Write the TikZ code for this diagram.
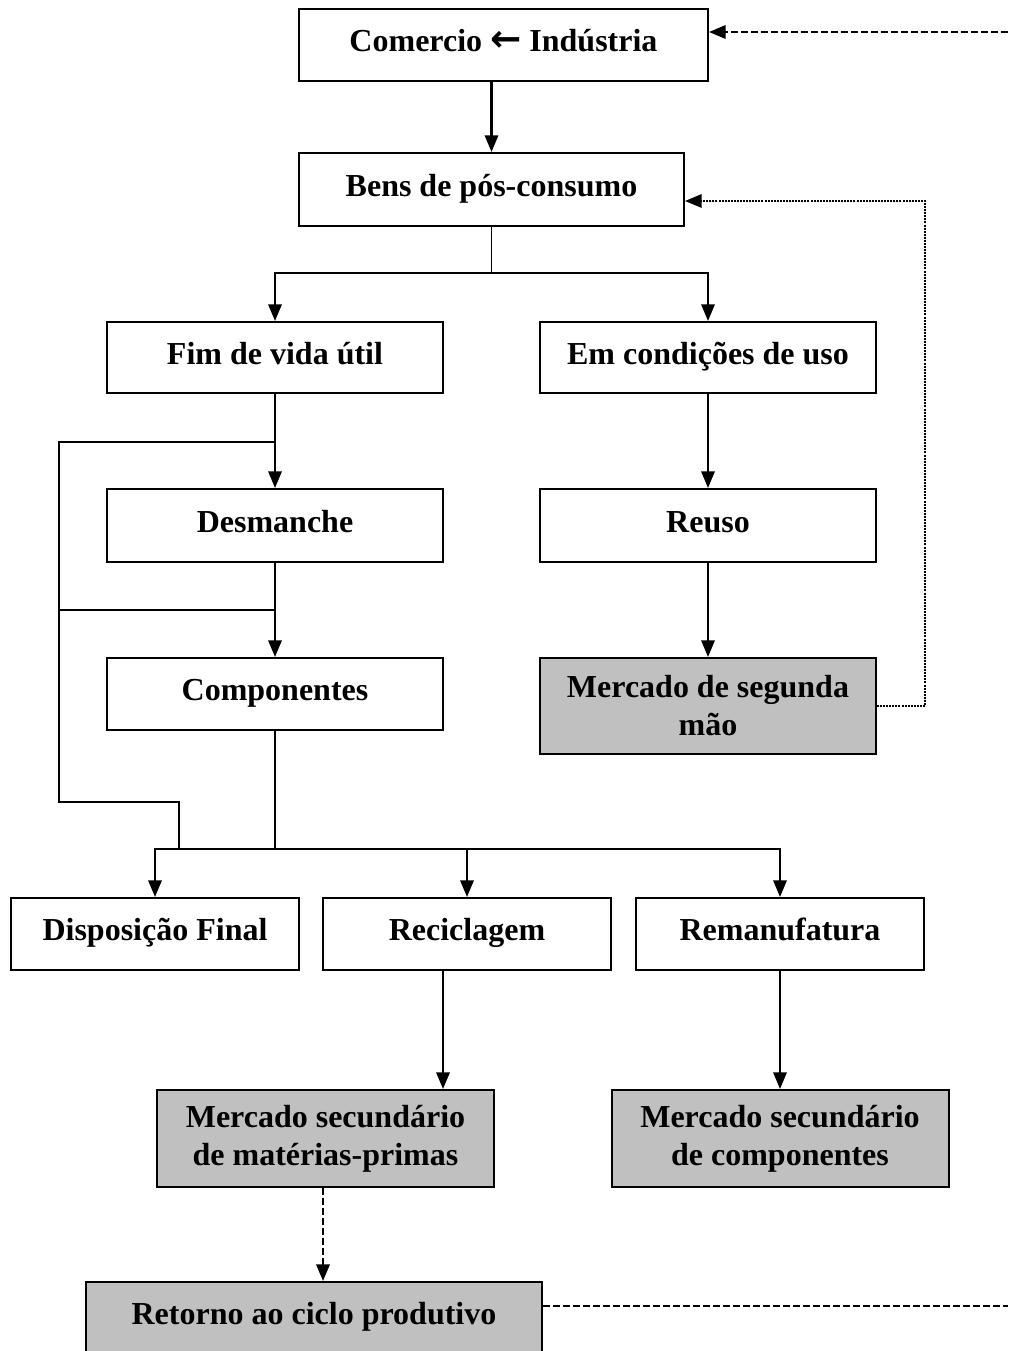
\documentclass[tikz,border=0pt]{standalone}
\usepackage{fontspec}
\setmainfont{Liberation Serif}
\newfontfamily\arrowfont{DejaVu Sans}
\usetikzlibrary{arrows.meta}
\definecolor{boxgray}{RGB}{192,192,192}
\begin{document}
\begin{tikzpicture}[x=0.75pt,y=-0.75pt,
  box/.style={draw, line width=1.5pt, inner sep=0pt, align=center,
    font=\fontsize{24}{28.5}\selectfont\bfseries},
  sbox/.style={box, text height=16pt, text depth=6pt},
  gbox/.style={box, fill=boxgray},
  arr/.style={line width=1.7pt, -{Triangle[length=12.5pt,width=10pt]}},
  plain/.style={line width=1.2pt},
  dasharr/.style={line width=1.8pt, dash pattern=on 5pt off 2.5pt, -{Triangle[length=12.5pt,width=10pt]}},
  dashln/.style={line width=1.8pt, dash pattern=on 5pt off 2.5pt},
  dotarr/.style={line width=1.6pt, dash pattern=on 1.5pt off 0.8pt, -{Triangle[length=12.5pt,width=10pt]}},
]
\clip (0,0) rectangle (1008,1351);
\fill[white] (0,0) rectangle (1008,1351);

% boxes
\node[sbox, minimum width=306.75pt, minimum height=54pt] (com) at (503.5,45) {Comercio {\arrowfont\bfseries\fontsize{28}{28}\selectfont ←} Indústria};
\node[sbox, minimum width=288.75pt, minimum height=54.75pt] (bens) at (491.5,189.5) {Bens de pós-consumo};
\node[sbox, minimum width=252pt, minimum height=53.25pt] (fim) at (275,357.5) {Fim de vida útil};
\node[sbox, minimum width=252pt, minimum height=53.25pt] (em) at (708,357.5) {Em condições de uso};
\node[sbox, minimum width=252pt, minimum height=54.75pt] (des) at (275,525.5) {Desmanche};
\node[sbox, minimum width=252pt, minimum height=54.75pt] (reu) at (708,525.5) {Reuso};
\node[sbox, minimum width=252pt, minimum height=54pt] (comp) at (275,694) {Componentes};
\node[gbox, minimum width=252pt, minimum height=72pt] (msm) at (708,706) {Mercado de segunda\\mão};
\node[sbox, minimum width=216pt, minimum height=54pt] (disp) at (155,934) {Disposição Final};
\node[sbox, minimum width=216pt, minimum height=54pt] (rec) at (467,934) {Reciclagem};
\node[sbox, minimum width=216pt, minimum height=54pt] (rem) at (780,934) {Remanufatura};
\node[gbox, minimum width=252.75pt, minimum height=72.75pt] (msmp) at (325.5,1138.5) {Mercado secundário\\de matérias-primas};
\node[gbox, minimum width=252.75pt, minimum height=72.75pt] (msc) at (780,1138.5) {Mercado secundário\\de componentes};
\node[sbox, fill=boxgray, minimum width=342pt, minimum height=54pt] (ret) at (314,1318) {Retorno ao ciclo produtivo};

% helper coordinates
\coordinate (j1) at (491.5,273);
\coordinate (bus) at (275,849);
\coordinate (lt1) at (59,442);
\coordinate (lt2) at (59,610);
\coordinate (lb) at (59,802);
\coordinate (lc) at (179,802);
\coordinate (x443) at (443,0);
\coordinate (x323) at (323,0);
\coordinate (d1) at (1008,32);
\coordinate (d2) at (1008,1306);
\coordinate (dt) at (925,706);
\coordinate (db) at (925,201);

% connectors
\draw[arr] (com.south -| bens.north) -- (bens.north);
\draw[plain] (bens.south) -- (j1);
\draw[arr] (j1) -| (fim.north);
\draw[arr] (j1) -| (em.north);
\draw[arr] (fim.south) -- (des.north);
\draw[arr] (des.south) -- (comp.north);
\draw[arr] (em.south) -- (reu.north);
\draw[arr] (reu.south) -- (msm.north);
\draw[plain] (fim.south |- lt1) -- (lt1) -- (lb) -- (lc) -- (lc |- bus);
\draw[plain] (des.south |- lt2) -- (lt2);
\draw[plain] (comp.south) -- (bus);
\draw[arr] (bus) -| (disp.north);
\draw[arr] (bus) -| (rec.north);
\draw[arr] (bus) -| (rem.north);
\draw[arr] (rec.south -| x443) -- (msmp.north -| x443);
\draw[arr] (rem.south) -- (msc.north);
\draw[dasharr] (msmp.south -| x323) -- (ret.north -| x323);
\draw[dashln] (ret.east |- d2) -- (d2);
\draw[dasharr] (d1) -- (com.east |- d1);
\draw[dotarr] (msm.east) -- (dt) -- (db) -- (bens.east |- db);
\end{tikzpicture}
\end{document}
